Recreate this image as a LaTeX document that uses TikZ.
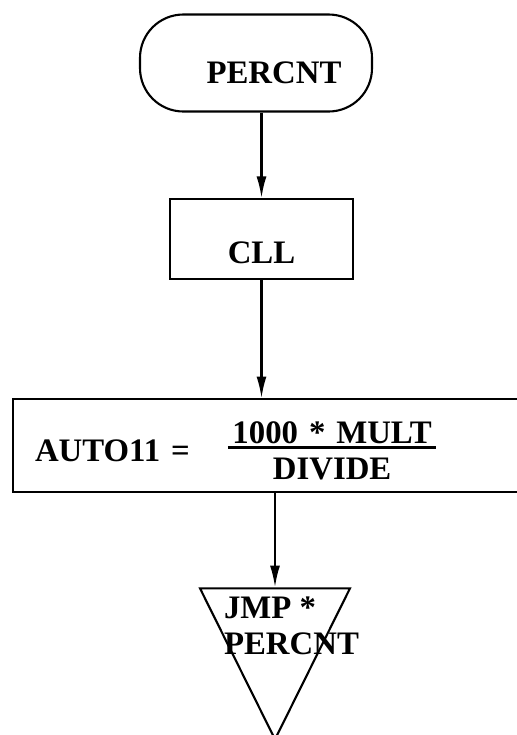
\documentclass[tikz,border=0pt]{standalone}
\usepackage{fontspec}
\setmainfont{Liberation Serif}
\usetikzlibrary{arrows.meta, positioning, shapes.geometric}
\setlength{\arrayrulewidth}{2.5pt}

\begin{document}
\begin{tikzpicture}[
node distance=25mm,
font=\fontsize{28}{30}\selectfont\bfseries,
line width=1.8pt,
terminal/.style={rectangle, rounded corners=13mm, draw, minimum width=69.6mm, minimum height=29.1mm, text height=12mm, text depth=0pt},
process/.style={rectangle, draw, minimum width=54.9mm, minimum height=24mm, text height=14.4mm, text depth=0pt},
assign/.style={rectangle, draw, minimum width=158.1mm, minimum height=27.9mm, inner xsep=6.6mm, text width=144.9mm, align=left, text depth=3.3mm},
jump/.style={isosceles triangle, shape border rotate=270, isosceles triangle stretches, draw, minimum width=45mm, minimum height=45.3mm, inner sep=0pt},
arrow/.style={-{Latex[length=6.5mm, width=3mm]}}
]
\useasboundingbox (0,0) rectangle (155.1mm,-220.5mm);

\node[terminal] (start) at (76.8mm,-18.9mm) {\hspace{10.8mm}PERCNT};
\node[process, below=25.65mm of start, xshift=1.65mm] (cll) {CLL};
\node[assign, below=35.4mm of cll, xshift=4.5mm] (auto) {AUTO11 =\hspace{11.4mm}\begin{tabular}{@{\hspace{4pt}}c@{\hspace{4pt}}}1000 * MULT\\[-7pt]\hline\rule{0pt}{26pt}DIVIDE\end{tabular}};
\node[jump, below=28.2mm of auto, anchor=lower side, xshift=-0.45mm] (jmp) {};
\node[align=left, inner sep=0pt, anchor=north west] (jmptext) at ([xshift=-15.6mm, yshift=-2.7mm]jmp.lower side) {JMP *\\PERCNT};

\draw[arrow] (start.south -| cll) -- (cll);
\draw[arrow] (cll) -- (cll |- auto.north);
\draw[arrow] (auto.south -| jmp.lower side) -- (jmp.lower side);

\end{tikzpicture}
\end{document}
